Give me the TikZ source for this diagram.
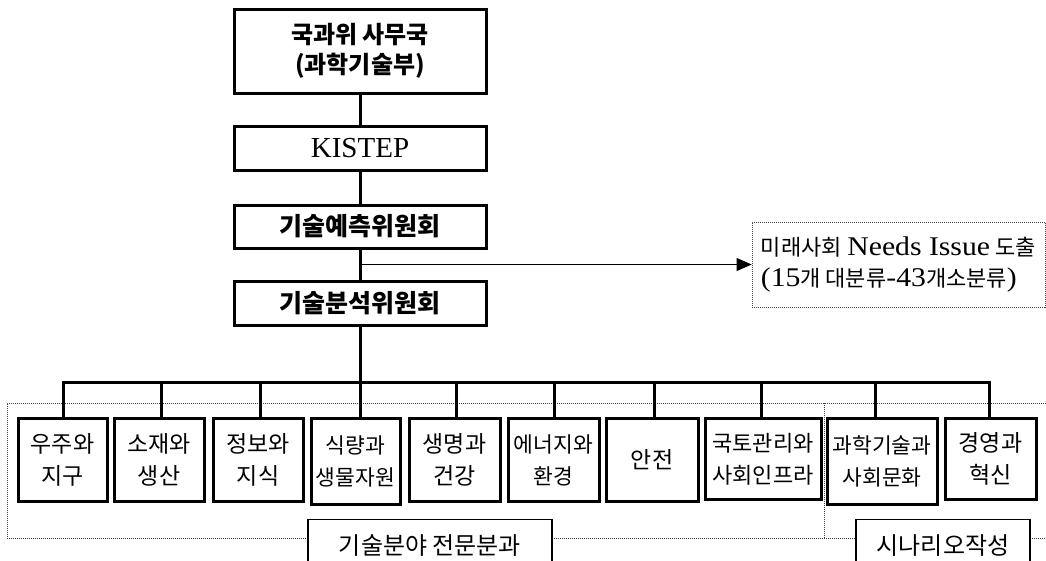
\documentclass[tikz,border=0pt]{standalone}
\usepackage{fontspec}
\setmainfont{Liberation Serif}
\newfontfamily\kr{Noto Sans CJK KR}
\newfontfamily\latw[FakeStretch=1.1]{Liberation Serif}
\usetikzlibrary{arrows.meta}
\newcommand{\hk}[1]{{\kr\fontsize{22}{33}\selectfont #1}}
\newcommand{\lt}[1]{{\latw\fontsize{27}{33}\selectfont #1}}
\begin{document}
\begin{tikzpicture}[x=1pt,y=-1pt,
  mainbox/.style={draw,line width=3pt,inner sep=0pt,align=center,minimum width=252pt},
  fieldbox/.style={draw,line width=3pt,inner sep=0pt,align=center,anchor=north,minimum height=83pt,
     font=\kr\fontsize{23}{32}\selectfont},
  conn/.style={line width=3pt},
  grp/.style={draw=black!75,line width=0.8pt,dash pattern=on 1pt off 1pt},
  labelbox/.style={draw,line width=1.3pt,inner sep=0pt,anchor=north,minimum height=52pt,
     font=\kr\fontsize{24}{26}\selectfont},
  krb/.style={font=\kr\bfseries\fontsize{24}{30}\selectfont}]
\useasboundingbox (0,0) rectangle (1046,560);
\clip (0,0) rectangle (1046,560);
\fill[white] (0,0) rectangle (1046,560);

% group frames (dotted)
\draw[grp] (1050,403) -- (7,403) -- (7,538) -- (308,538);
\draw[grp] (552,538) -- (856,538);
\draw[grp] (1030,538) -- (1050,538);
\draw[grp] (824,403) -- (824,538);

% top column
\node[mainbox,krb,minimum height=84pt] (top) at (360,51) {국과위 사무국\\(과학기술부)};
\node[mainbox,minimum height=44pt,font=\fontsize{29}{30}\selectfont] (kistep) at (360,148) {KISTEP};
\node[mainbox,krb,minimum height=43pt,font=\kr\bfseries\fontsize{25}{30}\selectfont] (pred) at (360,226.5) {기술예측위원회};
\node[mainbox,krb,minimum height=44pt,font=\kr\bfseries\fontsize{25}{30}\selectfont] (anal) at (360,303) {기술분석위원회};

\draw[conn] (top) -- (kistep);
\draw[conn] (kistep) -- (pred);
\draw[conn] (pred) -- (anal);

% needs box
\node[grp,inner sep=0pt,minimum width=293pt,minimum height=85pt,align=left,
      font=\fontsize{22}{31}\selectfont] (needs) at (898.5,264.5)
  {\hk{미래사회} \lt{Needs Issue} \hk{도출}\\
   \lt{(15}\hk{개 대분류}\lt{-43}\hk{개소분류}\lt{)}};
\coordinate (tap) at (pred.south |- needs.west);
\draw[line width=0.9pt,-{Triangle[length=15pt,width=13pt]}] (tap) -- (needs.west);

% field boxes
\node[fieldbox,minimum width=89pt] (f1) at (62.5,417) {우주와\\지구};
\node[fieldbox,minimum width=90pt] (f2) at (159,417) {소재와\\생산};
\node[fieldbox,minimum width=90pt] (f3) at (258,417) {정보와\\지식};
\node[fieldbox,minimum width=89pt,minimum height=86pt,font=\kr\fontsize{21.5}{32}\selectfont] (f4) at (355.5,417) {식량과\\생물자원};
\node[fieldbox,minimum width=91pt] (f5) at (454.5,417) {생명과\\건강};
\node[fieldbox,minimum width=91pt,font=\kr\fontsize{21.5}{32}\selectfont] (f6) at (553.5,417) {에너지와\\환경};
\node[fieldbox,minimum width=92pt] (f7) at (652,417) {안전};
\node[fieldbox,minimum width=116pt,minimum height=81pt,font=\kr\fontsize{22}{32}\selectfont] (f8) at (763,417) {국토관리와\\사회인프라};
\node[fieldbox,minimum width=110pt,minimum height=86pt,font=\kr\fontsize{21.5}{32}\selectfont] (f9) at (882,417) {과학기술과\\사회문화};
\node[fieldbox,minimum width=91pt,minimum height=81pt] (f10) at (990.5,417) {경영과\\혁신};

% bus
\coordinate (busL) at (63,382);
\coordinate (busR) at (989,382);
\draw[conn] (anal.south) -- (anal.south |- f4.north);
\draw[conn] (busL |- f1.north) -- (busL) -- (busR) -- (busR |- f10.north);
\foreach \x in {161,260,456,554,654,761,875}{
  \draw[conn] (\x,382) -- (\x,417);
}

% labels
\node[labelbox,minimum width=244pt] (lab1) at (430,518.5) {기술분야 전문분과};
\node[labelbox,minimum width=174pt] (lab2) at (943,518.5) {시나리오작성};
\end{tikzpicture}
\end{document}
